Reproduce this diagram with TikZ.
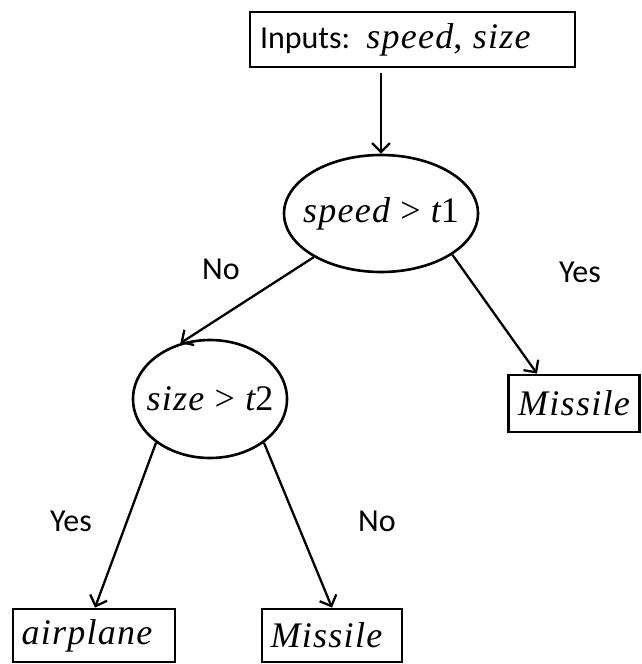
\documentclass[tikz,border=0pt]{standalone}
\usepackage{fontspec}
\newfontfamily\calibri{Carlito}
\newfontfamily\mathserif[LetterSpace=3.5]{Liberation Serif}
\newcommand\mvar[1]{{\itshape #1}}
\newcommand\fixw[1]{\makebox[0pt]{#1}}
\usetikzlibrary{shapes.geometric,arrows.meta}
\begin{document}
\begin{tikzpicture}[x=1pt,y=-1pt,
  txt/.style={font=\calibri\fontsize{32}{38}\selectfont},
  mth/.style={font=\mathserif\fontsize{36}{42}\selectfont},
  box/.style={draw,line width=2.8pt,rectangle,inner sep=0pt},
  oval/.style={draw,line width=2.6pt,ellipse,inner sep=0pt},
  arr/.style={line width=2.3pt,-{Straight Barb[length=9pt,width=18pt,line width=2.3pt]}}
]
\useasboundingbox (0,0) rectangle (642,664);
\node[box,txt,text width=305pt,inner xsep=10pt,align=left,minimum height=55pt] (top) at (412.5,39.5) {Inputs: {\mathserif\fontsize{36}{42}\selectfont\mvar{speed}, \mvar{size}}};
\node[oval,mth,minimum width=194pt,minimum height=117pt] (e1) at (381,213.5) {\fixw{\mvar{speed} > \mvar{t}1}};
\node[oval,mth,minimum width=154pt,minimum height=118pt] (e2) at (210,399) {\fixw{\mvar{size} > \mvar{t}2}};
\node[box,mth,minimum width=131pt,minimum height=57pt] (m1) at (574,403.5) {\fixw{\mvar{Missile}}};
\node[box,mth,minimum width=162pt,minimum height=53pt] (air) at (94,635.5) {\fixw{\hspace{-14pt}\mvar{airplane}}};
\node[box,mth,minimum width=140pt,minimum height=53pt] (m2) at (332,635.5) {\fixw{\hspace{-11pt}\mvar{Missile}}};

\draw[arr,shorten <=5pt] (e1.north |- top.south) -- (e1.north);
\draw[arr] (e1.213) -- (e2.118);
\draw[arr] (e1.330) -- ([xshift=-37pt]m1.north);
\draw[arr] (e2.219) -- ([xshift=1pt]air.north);
\draw[arr] (e2.321) -- (m2.north);

\node[txt] (no1) at (221,269) {No};
\node[txt] (yes1) at (580,272) {Yes};
\node[txt] (yes2) at (71,521) {Yes};
\node[txt] (no2) at (377,521) {No};
\end{tikzpicture}
\end{document}
